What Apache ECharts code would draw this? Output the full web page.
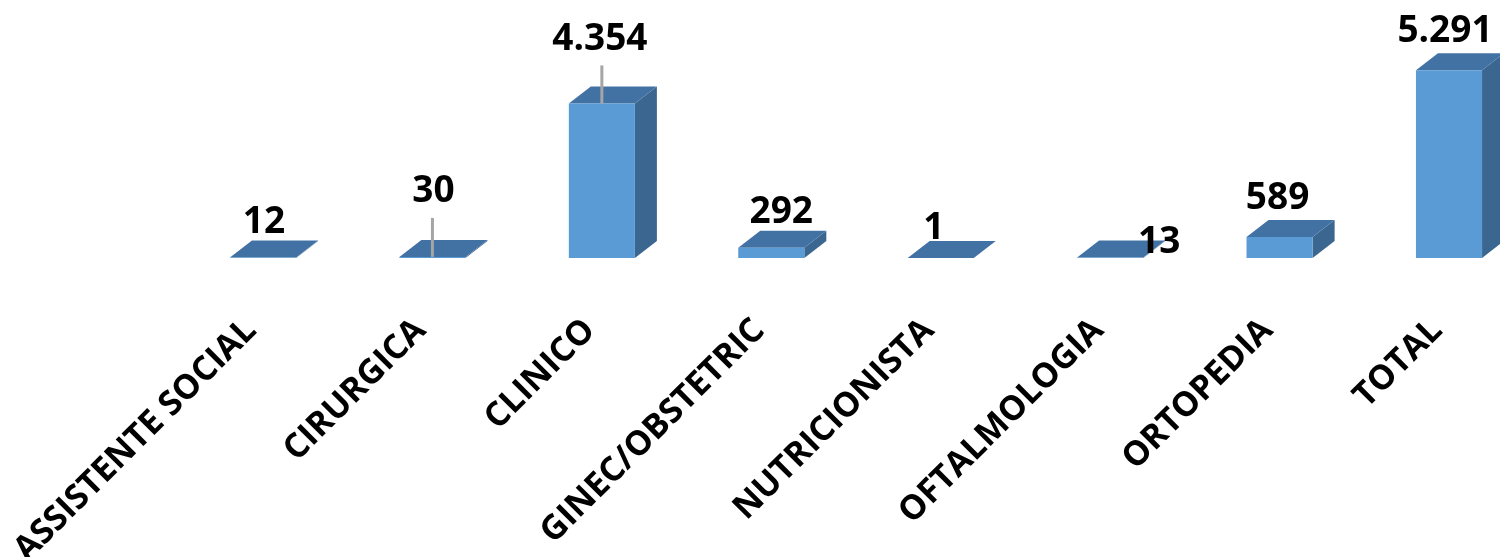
<!DOCTYPE html>
<html>
<head>
<meta charset="utf-8">
<script src="https://cdn.jsdelivr.net/npm/echarts@6/dist/echarts.min.js"></script>
<style>
  html, body { margin: 0; padding: 0; background: #fff; }
  #chart { width: 1500px; height: 557px; }
</style>
</head>
<body>
<div id="chart"></div>
<script>
// ---- data ----
const categories = ['ASSISTENTE SOCIAL', 'CIRURGICA', 'CLINICO', 'GINEC/OBSTETRIC', 'NUTRICIONISTA', 'OFTALMOLOGIA', 'ORTOPEDIA', 'TOTAL'];
const values = [12, 30, 4354, 292, 1, 13, 589, 5291];

// ---- layout / style (not data) ----
const labelShift = [[0, 0], [0, -30], [-3, -29], [9, 0], [-8, 5], [48, 20], [-3, -4], [-5, -4]];
const leaderLine = [false, true, true, false, false, false, false, false];
const depthX = 22, depthY = 17;
const barRatio = 0.39;
const FRONT = '#5B9BD5', TOP = '#4272A4', SIDE = '#3A6690';
const FONT = '"Open Sans", "Liberation Sans", sans-serif';

function fmt(v) {
  return String(v).replace(/\B(?=(\d{3})+(?!\d))/g, '.');
}

const chart = echarts.init(document.getElementById('chart'), null, { renderer: 'canvas' });

chart.setOption({
  animation: false,
  grid: { left: 263, right: 51, top: 9.5, bottom: 299, containLabel: false, outerBoundsMode: 'none' },
  xAxis: {
    type: 'category',
    data: categories,
    boundaryGap: false,
    axisLine: { show: false },
    axisTick: { show: false },
    splitLine: { show: false },
    axisLabel: {
      interval: 0,
      rotate: 45,
      margin: 79,
      verticalAlign: 'bottom',
      color: '#000',
      fontSize: 34,
      fontWeight: 'bold',
      fontFamily: FONT
    }
  },
  yAxis: {
    type: 'value',
    min: 0,
    max: 7000,
    show: false,
    splitLine: { show: false }
  },
  series: [{
    type: 'custom',
    clip: false,
    data: values.map((v, i) => [i, v]),
    renderItem: function (params, api) {
      const i = api.value(0);
      const v = api.value(1);
      const top = api.coord([i, v]);
      const base = api.coord([i, 0]);
      const w = api.size([1, 0])[0] * barRatio;
      const x0 = top[0] - w / 2, x1 = top[0] + w / 2;
      const yT = top[1], yB = base[1];
      const children = [
        { type: 'polygon', shape: { points: [[x1, yB], [x1 + depthX, yB - depthY], [x1 + depthX, yT - depthY], [x1, yT]] }, style: { fill: SIDE } },
        { type: 'polygon', shape: { points: [[x0, yT], [x1, yT], [x1 + depthX, yT - depthY], [x0 + depthX, yT - depthY]] }, style: { fill: TOP } },
        { type: 'rect', shape: { x: x0, y: yT, width: w, height: Math.max(yB - yT, 0) }, style: { fill: FRONT } }
      ];
      const sh = labelShift[i];
      const lx = top[0] + 1 + sh[0];
      const ly = yT - depthY - 18 + sh[1];
      if (leaderLine[i]) {
        children.push({ type: 'line', shape: { x1: top[0], y1: ly + 26, x2: top[0], y2: yT }, style: { stroke: '#A5A5A5', lineWidth: 3 } });
      }
      children.push({
        type: 'text',
        style: {
          text: fmt(v), x: lx, y: ly, align: 'center', verticalAlign: 'middle',
          fontSize: 37, fontWeight: 'bold', fontFamily: FONT, fill: '#000'
        }
      });
      return { type: 'group', children: children };
    }
  }]
});
</script>
</body>
</html>
